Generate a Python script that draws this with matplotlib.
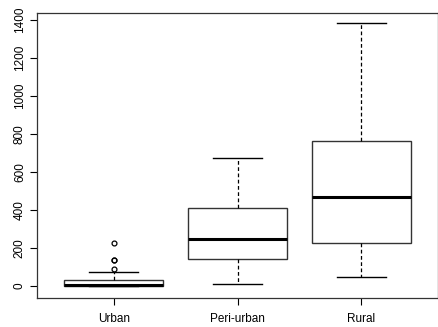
import matplotlib
matplotlib.use("Agg")
import matplotlib.pyplot as plt

plt.rcParams['font.family'] = ['Liberation Sans', 'DejaVu Sans']

groups = ["Urban", "Peri-urban", "Rural"]
whislo = [0, 10, 46]
q1 = [0, 142, 228]
med = [5, 247, 466]
q3 = [32, 412, 764]
whishi = [72, 675, 1385]
fliers = [[90, 137, 137, 226], [], []]

stats = []
for i, name in enumerate(groups):
    stats.append(dict(label=name, whislo=whislo[i], q1=q1[i], med=med[i],
                      q3=q3[i], whishi=whishi[i], fliers=fliers[i]))

fig = plt.figure(figsize=(4.38, 3.27), dpi=100)
ax = fig.add_axes([37 / 438, 1 - 298 / 327, 401 / 438, 285 / 327])

ax.bxp(stats, positions=[1, 2, 3], widths=0.8, patch_artist=True,
       boxprops=dict(facecolor="white", edgecolor="#333333", linewidth=1.0),
       medianprops=dict(color="black", linewidth=2.2, solid_capstyle="butt"),
       whiskerprops=dict(color="black", linewidth=0.9, linestyle=(0, (3, 2))),
       capprops=dict(color="black", linewidth=1.0),
       capwidths=0.4,
       flierprops=dict(marker="o", markersize=3.5, markerfacecolor="none",
                       markeredgecolor="black", markeredgewidth=0.9))

ax.set_xlim(0.38, 3.62)
ax.set_ylim(-63, 1436)
ax.set_yticks([0, 200, 400, 600, 800, 1000, 1200, 1400])
ax.set_xticks([1, 2, 3])
ax.set_xticklabels(groups)
ax.tick_params(axis="y", labelrotation=90, length=5, width=0.8, pad=3, labelsize=8.5)
ax.tick_params(axis="x", length=5, width=0.8, pad=6, labelsize=8.5)
for lab in ax.get_yticklabels():
    lab.set_va("center")
for s in ax.spines.values():
    s.set_linewidth(0.9)
    s.set_color("#333333")

fig.savefig("out.png", dpi=100)
